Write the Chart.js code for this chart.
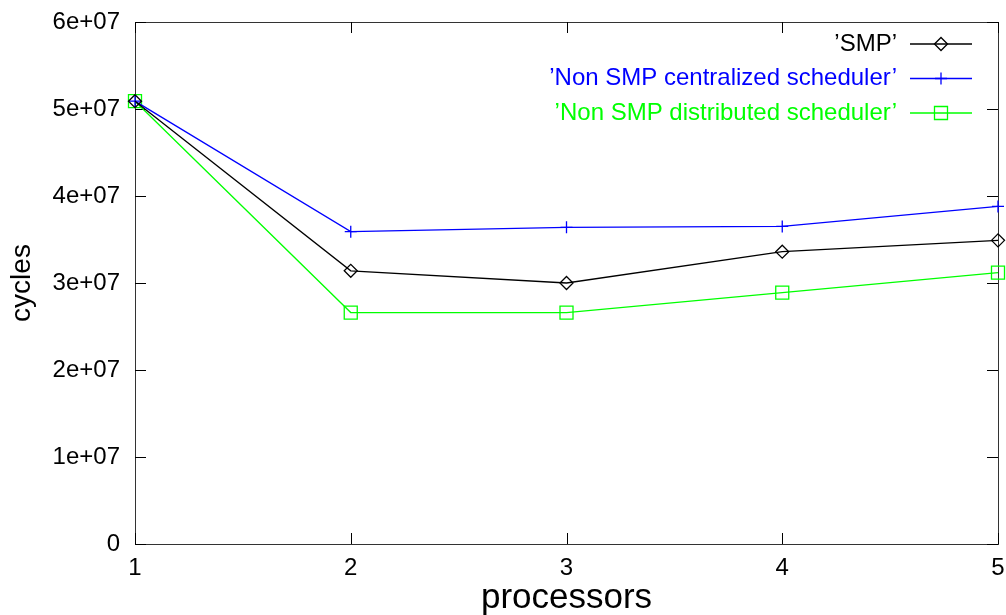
<!DOCTYPE html>
<html>
<head>
<meta charset="utf-8">
<script src="https://cdn.jsdelivr.net/npm/chart.js@4.4.1/dist/chart.umd.min.js"></script>
<style>
  html, body { margin: 0; padding: 0; background: #fff; }
  #wrap { width: 1006px; height: 615px; }
</style>
</head>
<body>
<div id="wrap"><canvas id="chart" width="1006" height="615"></canvas></div>
<script>
// data
var processors = [1, 2, 3, 4, 5];
var smp = [5.09e7, 3.14e7, 3.00e7, 3.36e7, 3.49e7];
var centralized = [5.09e7, 3.59e7, 3.64e7, 3.65e7, 3.88e7];
var distributed = [5.09e7, 2.66e7, 2.66e7, 2.89e7, 3.12e7];
var seriesNames = ["\u2019SMP\u2019", "\u2019Non SMP centralized scheduler\u2019", "\u2019Non SMP distributed scheduler\u2019"];
var seriesColors = ["#000000", "#0000ff", "#00ff00"];
var seriesMarkers = ["rectRot", "cross", "rect"];
var markerSizes = [6.5, 6, 9.2];

var FONT = "'Liberation Sans', Arial, Helvetica, sans-serif";
Chart.defaults.font.family = FONT;
Chart.defaults.color = "#000";

function pts(values) {
  return processors.map(function (p, i) { return { x: p, y: values[i] }; });
}

function makeSet(i, values) {
  return {
    label: seriesNames[i],
    data: pts(values),
    borderColor: seriesColors[i],
    backgroundColor: "rgba(0,0,0,0)",
    borderWidth: 1.3,
    pointStyle: seriesMarkers[i],
    pointRadius: markerSizes[i],
    pointBorderWidth: 1.3,
    pointBorderColor: seriesColors[i],
    pointBackgroundColor: "rgba(0,0,0,0)",
    tension: 0,
    clip: false
  };
}

// gnuplot style frame with inward ticks on all four sides
var framePlugin = {
  id: "frame",
  beforeDatasetsDraw: function (chart) {
    var ctx = chart.ctx, a = chart.chartArea;
    var xs = chart.scales.x, ys = chart.scales.y;
    var len = 11;
    ctx.save();
    ctx.strokeStyle = "#333";
    ctx.lineWidth = 1;
    ctx.strokeRect(a.left + 0.5, a.top + 0.5, a.right - a.left, a.bottom - a.top);
    ctx.strokeStyle = "#000";
    ctx.beginPath();
    xs.ticks.forEach(function (t) {
      var px = Math.round(xs.getPixelForValue(t.value)) + 0.5;
      ctx.moveTo(px, a.bottom); ctx.lineTo(px, a.bottom - len);
      ctx.moveTo(px, a.top); ctx.lineTo(px, a.top + len);
    });
    ys.ticks.forEach(function (t) {
      var py = Math.round(ys.getPixelForValue(t.value)) + 0.5;
      ctx.moveTo(a.left, py); ctx.lineTo(a.left + len, py);
      ctx.moveTo(a.right, py); ctx.lineTo(a.right - len, py);
    });
    ctx.stroke();
    ctx.restore();
  }
};

function drawMarker(ctx, style, x, y, r) {
  ctx.beginPath();
  if (style === "rectRot") {
    ctx.moveTo(x - r, y); ctx.lineTo(x, y - r); ctx.lineTo(x + r, y); ctx.lineTo(x, y + r); ctx.closePath();
  } else if (style === "cross") {
    ctx.moveTo(x - r, y); ctx.lineTo(x + r, y); ctx.moveTo(x, y - r); ctx.lineTo(x, y + r);
  } else {
    var s = r * Math.SQRT1_2;
    ctx.rect(x - s, y - s, 2 * s, 2 * s);
  }
  ctx.stroke();
}

// key in the top right corner: text right aligned, sample on the right
var keyPlugin = {
  id: "key",
  afterDraw: function (chart) {
    var ctx = chart.ctx, a = chart.chartArea;
    var lineR = a.right - 26, lineL = a.right - 88, textR = a.right - 101;
    ctx.save();
    ctx.font = "24px " + FONT;
    ctx.textAlign = "right";
    ctx.textBaseline = "middle";
    chart.data.datasets.forEach(function (ds, i) {
      var y = a.top + 22 + i * 34.5;
      ctx.fillStyle = seriesColors[i];
      ctx.fillText(ds.label, textR, y);
      ctx.strokeStyle = seriesColors[i];
      ctx.lineWidth = 1.3;
      ctx.beginPath();
      ctx.moveTo(lineL, y); ctx.lineTo(lineR, y);
      ctx.stroke();
      drawMarker(ctx, seriesMarkers[i], (lineL + lineR) / 2, y, markerSizes[i]);
    });
    ctx.restore();
  }
};

var chartData = {
  datasets: [
    makeSet(0, smp),
    makeSet(1, centralized),
    makeSet(2, distributed)
  ]
};

var chartOptions = {
  responsive: false,
  animation: false,
  layout: { autoPadding: false, padding: { left: 0, top: 22, right: 8, bottom: 0 } },
  plugins: { legend: { display: false }, tooltip: { enabled: false } },
  scales: {
    x: {
      type: "linear",
      min: 1,
      max: 5,
      grid: { display: false, drawTicks: false },
      border: { display: false },
      ticks: { stepSize: 1, padding: 10, maxRotation: 0, font: { size: 24 },
        callback: function (v) { return String(v); } },
      title: { display: true, text: "processors", font: { size: 35 }, padding: { top: 0, bottom: -4 } },
      afterFit: function (s) { s.height = 71; s.paddingLeft = 0; s.paddingRight = 0; }
    },
    y: {
      min: 0,
      max: 6e7,
      grid: { display: false, drawTicks: false },
      border: { display: false },
      ticks: { stepSize: 1e7, padding: 15, font: { size: 24 },
        callback: function (v) { return v === 0 ? "0" : Math.round(v / 1e7) + "e+07"; } },
      title: { display: true, text: "cycles", font: { size: 28 }, padding: { top: 5, bottom: 0 } },
      afterFit: function (s) { s.width = 135; s.paddingTop = 0; s.paddingBottom = 0; }
    }
  }
};

var ctx = document.getElementById("chart");
var lineChart = new Chart(ctx, {
  type: "line",
  data: chartData,
  options: chartOptions,
  plugins: [framePlugin, keyPlugin]
});
</script>
</body>
</html>
